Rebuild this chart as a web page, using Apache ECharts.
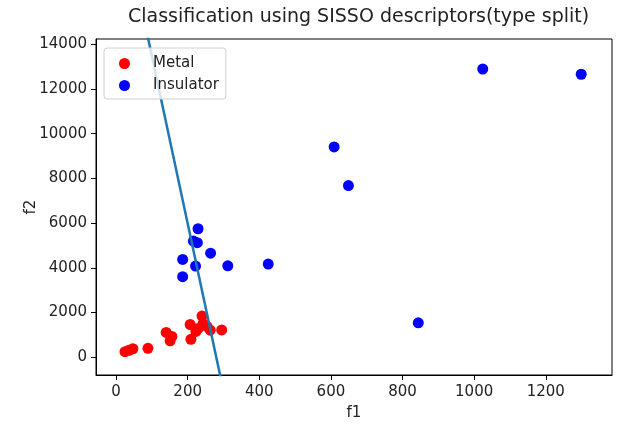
<!DOCTYPE html>
<html>
<head>
<meta charset="utf-8">
<script src="https://cdn.jsdelivr.net/npm/echarts@6/dist/echarts.min.js"></script>
<style>
  html, body { margin: 0; padding: 0; background: #fff; }
  #main { width: 617px; height: 426px; }
</style>
</head>
<body>
<div id="main"></div>
<script>
// values
const metalF1 = [25, 36, 47, 89, 140, 156, 151, 207, 209, 223, 229, 240, 243, 254, 263, 295];
const metalF2 = [244, 310, 377, 399, 1108, 930, 731, 1462, 798, 1152, 1285, 1839, 1506, 1374, 1210, 1218];

const insulatorF1 = [229, 216, 227, 264, 186, 222, 312, 425, 186, 609, 649, 844, 1024, 1299];
const insulatorF2 = [5746, 5196, 5125, 4652, 4373, 4076, 4089, 4165, 3602, 9407, 7680, 1537, 12893, 12658];

// decision boundary end points
const lineF1 = [80, 300];
const lineF2 = [14971, -1509];

const xTicks = [0, 200, 400, 600, 800, 1000, 1200];
const yTicks = [0, 2000, 4000, 6000, 8000, 10000, 12000, 14000];

const font = 'DejaVu Sans';

function pairs(xs, ys) {
  return xs.map((x, i) => [x, ys[i]]);
}

const chart = echarts.init(document.getElementById('main'), null, { renderer: 'canvas' });

function axisCommon(ticks, margin) {
  return {
    type: 'value',
    scale: true,
    axisLine: { show: true, onZero: false, lineStyle: { color: '#000', width: 1 } },
    axisTick: { show: true, inside: false, length: 5, customValues: ticks, lineStyle: { color: '#000' } },
    axisLabel: {
      customValues: ticks,
      color: '#222',
      fontSize: 15,
      fontFamily: font,
      margin: margin,
      formatter: v => String(v)
    },
    splitLine: { show: false },
    nameLocation: 'middle',
    nameMoveOverlap: false,
    nameTextStyle: { color: '#222', fontSize: 15, fontFamily: font }
  };
}

const option = {
  animation: false,
  backgroundColor: '#fff',
  title: {
    text: 'Classification using SISSO descriptors(type split)',
    left: 128,
    top: 8,
    padding: 0,
    textStyle: { color: '#222', fontSize: 19, fontWeight: 'normal', fontFamily: font }
  },
  legend: {
    data: ['Metal', 'Insulator'],
    orient: 'vertical',
    left: 104,
    top: 48,
    padding: [8, 7, 6, 15],
    itemGap: 7,
    itemWidth: 28,
    itemHeight: 11,
    icon: 'circle',
    formatter: name => '\u00a0\u00a0' + name,
    backgroundColor: 'rgba(255,255,255,0.8)',
    borderColor: '#d0d0d0',
    borderWidth: 1,
    borderRadius: 3,
    textStyle: { color: '#222', fontSize: 15, fontFamily: font }
  },
  grid: {
    left: 96,
    right: 5,
    top: 39,
    bottom: 48,
    show: true,
    borderColor: '#000',
    borderWidth: 1,
    containLabel: false
  },
  xAxis: Object.assign(axisCommon(xTicks, 10), {
    min: -56,
    max: 1385,
    name: 'f1',
    nameGap: 31
  }),
  yAxis: Object.assign(axisCommon(yTicks, 9), {
    min: -797,
    max: 14235,
    name: 'f2',
    nameGap: 57,
    nameRotate: 90
  }),
  series: [
    {
      name: 'Metal',
      type: 'scatter',
      symbolSize: 11,
      itemStyle: { color: '#ff0000', opacity: 1 },
      data: pairs(metalF1, metalF2)
    },
    {
      name: 'Insulator',
      type: 'scatter',
      symbolSize: 11,
      itemStyle: { color: '#0000ff', opacity: 1 },
      data: pairs(insulatorF1, insulatorF2)
    },
    {
      name: 'boundary',
      type: 'line',
      symbol: 'none',
      clip: true,
      z: 3,
      lineStyle: { color: '#1f77b4', width: 2.5 },
      data: pairs(lineF1, lineF2)
    }
  ]
};

chart.setOption(option);
</script>
</body>
</html>
